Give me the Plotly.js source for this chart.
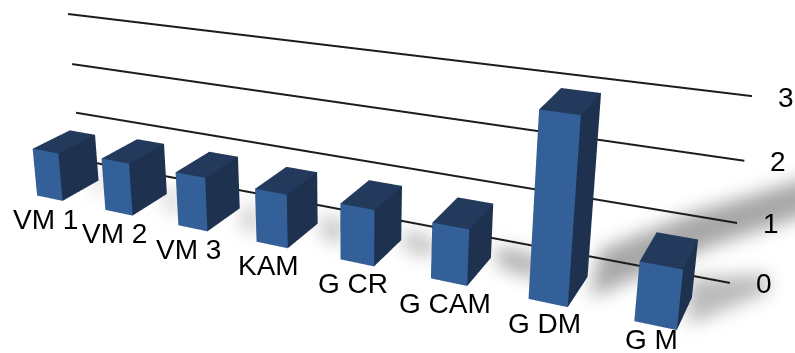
<!DOCTYPE html>
<html>
<head>
<meta charset="utf-8">
<script src="https://cdn.plot.ly/plotly-3.0.1.min.js"></script>
<style>
html,body{margin:0;padding:0;width:795px;height:353px;overflow:hidden;background:#fff}
#stage{position:absolute;left:0;top:0;width:795px;height:353px;overflow:hidden}
#chart{position:absolute;left:-289px;top:-362px;width:1100px;height:1000px}
#chart .shapelayer{filter:blur(9px)}
</style>
</head>
<body>
<div id="stage"><div id="chart"></div></div>
<script>
// Bar values per site
const categories = ['VM 1','VM 2','VM 3','KAM','G CR','G CAM','G DM','G M'];
const values = [0.93,0.99,0.99,0.96,0.98,0.95,3.0,0.95];
const gridValues = [0,1,2,3];

// The grid lines span less than the axes so nothing touches the scene's clip box
const gridSpan = [-0.451,7.46];
const xRange = [-1,8.009];
const depthRange = [-0.3,0.1];
const zRange = [-0.3,3.3];
const barHalfWidth = 0.19;
const barBack = -0.06, barFront = -0.15;

const frontColor = '#34609a', sideColor = '#1e3250', topColor = '#233a5c';

function barTrace(i, v){
  const x0=i-barHalfWidth, x1=i+barHalfWidth;
  const x=[x0,x1,x1,x0,x0,x1,x1,x0];
  const y=[barFront,barFront,barBack,barBack,barFront,barFront,barBack,barBack];
  const z=[0,0,0,0,v,v,v,v];
  const faces=[
    [0,1,5,frontColor],[0,5,4,frontColor],
    [1,2,6,sideColor],[1,6,5,sideColor],
    [4,5,6,topColor],[4,6,7,topColor],
    [3,0,4,sideColor],[3,4,7,sideColor],
    [2,3,7,sideColor],[2,7,6,sideColor],
    [0,3,2,sideColor],[0,2,1,sideColor]
  ];
  return {type:'mesh3d',x,y,z,
    i:faces.map(f=>f[0]),j:faces.map(f=>f[1]),k:faces.map(f=>f[2]),
    facecolor:faces.map(f=>f[3]),flatshading:true,
    lighting:{ambient:1,diffuse:0,specular:0,roughness:1,fresnel:0},
    hoverinfo:'skip',showscale:false,name:categories[i]};
}

const gridTraces = gridValues.map(g=>({
  type:'scatter3d',mode:'lines',x:gridSpan,y:[0,0],z:[g,g],
  line:{color:'#1c1c1c',width:4},hoverinfo:'skip',showlegend:false
}));
const bars = values.map((v,i)=>barTrace(i,v));

// Soft shadows sit under the transparent 3D scene; helper maps window pixels to paper space
const px = (x,y)=>[(x+289)/1100, 1-(y+362)/1000];
function shadow(points,color){
  const path='M'+points.map(p=>px(p[0],p[1]).join(',')).join('L')+'Z';
  return {type:'path',xref:'paper',yref:'paper',path,fillcolor:color,line:{width:0},layer:'below'};
}
const shapes=[
  shadow([[600,250],[695,212],[815,176],[815,212],[712,246],[640,276],[590,298]],'rgba(125,125,125,0.68)'),
  shadow([[688,278],[768,274],[768,292],[688,325]],'rgba(130,130,130,0.55)'),
  shadow([[497,246],[540,256],[540,280],[497,266]],'rgba(120,120,120,0.6)'),
  shadow([[404,230],[434,238],[434,258],[404,250]],'rgba(130,130,130,0.5)'),
  shadow([[322,215],[344,222],[344,244],[322,238]],'rgba(130,130,130,0.5)'),
  shadow([[242,204],[258,210],[258,234],[242,228]],'rgba(130,130,130,0.45)'),
  shadow([[166,186],[178,190],[178,214],[166,210]],'rgba(130,130,130,0.45)'),
  shadow([[96,170],[104,173],[104,194],[96,192]],'rgba(130,130,130,0.45)')
];

// Label text follows the scene projection; the last label is pulled up to stay inside the frame
const labelFont = {family:'Liberation Sans',size:28,color:'#000'};
const annotations=[];
categories.forEach((c,i)=>annotations.push({x:i,y:barFront,z:0,text:c,showarrow:false,
  xanchor:'center',yanchor:'middle',xshift:-4,yshift:i===7?-14:-21,font:labelFont}));
gridValues.forEach(g=>annotations.push({x:gridSpan[1],y:0,z:g,text:String(g),showarrow:false,
  xanchor:'center',yanchor:'middle',xshift:34,yshift:-1,font:labelFont}));

const hiddenAxis = r=>({range:r,visible:false,showspikes:false,showgrid:false,zeroline:false,showbackground:false});

Plotly.newPlot('chart',[...gridTraces,...bars],{
  width:1100,height:1000,margin:{l:0,r:0,t:0,b:0,pad:0},
  paper_bgcolor:'rgba(0,0,0,0)',showlegend:false,shapes,
  scene:{
    domain:{x:[0,1],y:[0,1]},bgcolor:'rgba(0,0,0,0)',
    xaxis:hiddenAxis(xRange),yaxis:hiddenAxis(depthRange),zaxis:hiddenAxis(zRange),
    aspectmode:'manual',aspectratio:{x:1.1387,y:0.4,z:0.2915},
    camera:{
      projection:{type:'perspective'},
      eye:{x:0.6597,y:-1.3491,z:0.5692},
      center:{x:-0.0823,y:-0.0397,z:0.0262},
      up:{x:-0.1437,y:0.3085,z:0.9403}
    },
    annotations
  }
},{displayModeBar:false,responsive:false});
</script>
</body>
</html>
